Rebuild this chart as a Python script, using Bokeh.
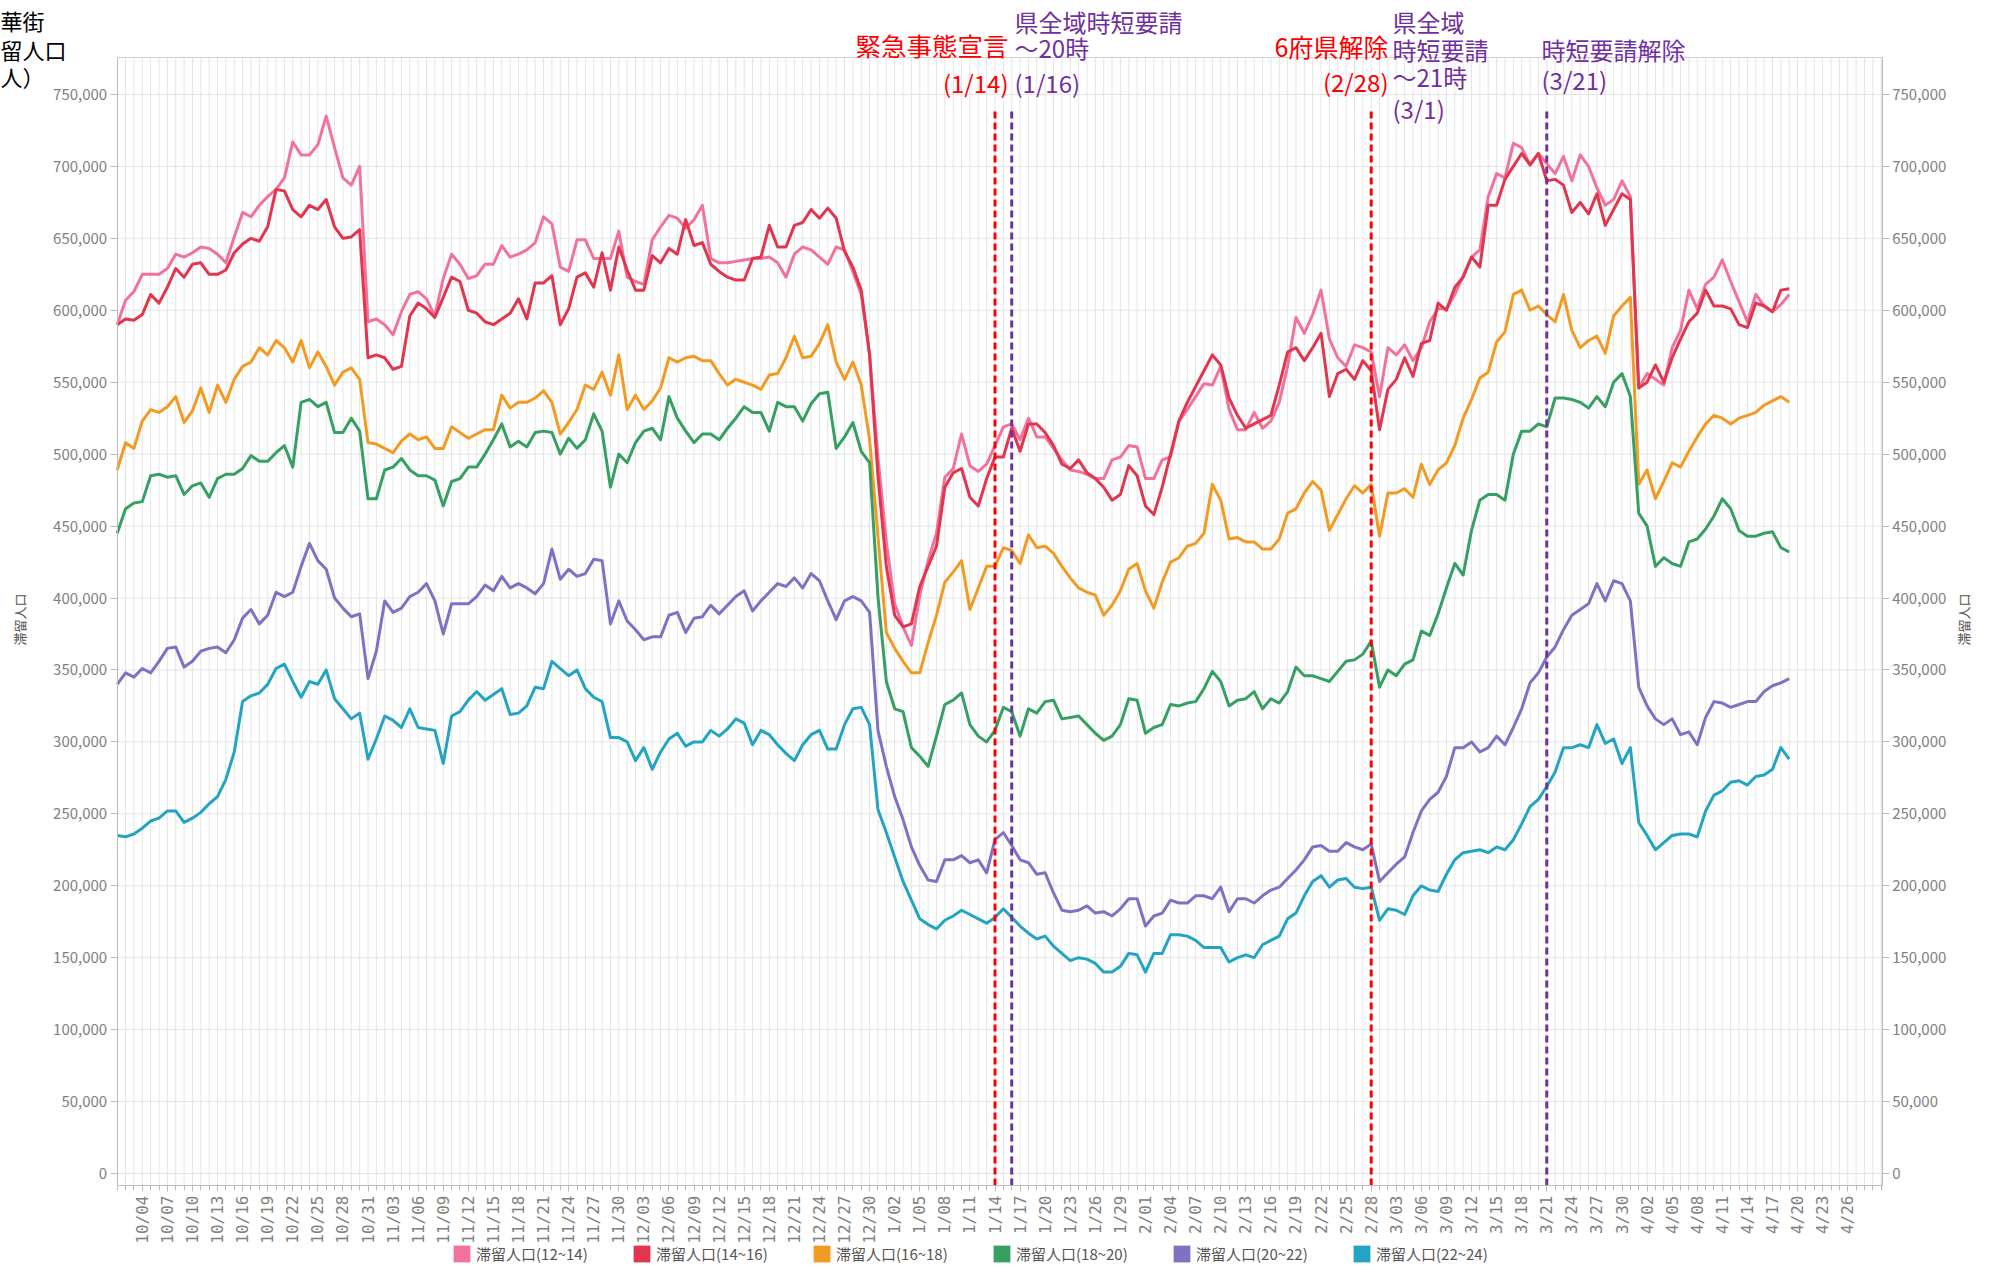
from datetime import date, timedelta
from bokeh.plotting import figure
from bokeh.models import (Range1d, LinearAxis, FixedTicker, NumeralTickFormatter,
                          Label, Legend, LegendItem, ColumnDataSource)
from bokeh.embed import file_html
from bokeh.resources import INLINE

FONT = "Noto Sans CJK JP"

# ---- data (values in thousands of people), day 0 = 10/01 ----
START = date(2020, 10, 1)
N_DAYS_AXIS = 212  # 10/01 .. 4/30

TICK_LABELS = ["10/04", "10/07", "10/10", "10/13", "10/16", "10/19", "10/22", "10/25", "10/28",
               "10/31", "11/03", "11/06", "11/09", "11/12", "11/15", "11/18", "11/21", "11/24",
               "11/27", "11/30", "12/03", "12/06", "12/09", "12/12", "12/15", "12/18", "12/21",
               "12/24", "12/27", "12/30", "1/02", "1/05", "1/08", "1/11", "1/14", "1/17", "1/20",
               "1/23", "1/26", "1/29", "2/01", "2/04", "2/07", "2/10", "2/13", "2/16", "2/19",
               "2/22", "2/25", "2/28", "3/03", "3/06", "3/09", "3/12", "3/15", "3/18", "3/21",
               "3/24", "3/27", "3/30", "4/02", "4/05", "4/08", "4/11", "4/14", "4/17", "4/20",
               "4/23", "4/26"]

SERIES_NAMES = ["滞留人口(12~14)", "滞留人口(14~16)", "滞留人口(16~18)",
                "滞留人口(18~20)", "滞留人口(20~22)", "滞留人口(22~24)"]
SERIES_COLORS = ["#F2729E", "#E2354E", "#F39A22", "#35A062", "#7E72C2", "#23A4C2"]

pop_12_14 = [590, 607, 613, 625, 625, 625, 629, 639, 637, 640, 644, 643, 639, 633, 651, 668, 665, 673, 679, 684,
             692, 717, 708, 708, 715, 735, 713, 692, 687, 700, 592, 594, 590, 583, 599, 611, 613, 608, 596, 622,
             639, 632, 622, 624, 632, 632, 645, 637, 639, 642, 647, 665,
             660, 630, 627, 649, 649, 636, 636, 636, 655, 623, 620, 618, 649, 658, 666, 664, 657, 663, 673, 636,
             633, 633, 634, 635, 636, 636, 637, 633, 623, 639, 644, 642, 637, 632, 644, 642, 627, 611, 569, 498,
             439, 396, 380, 367, 402, 426, 445, 484, 490, 514, 492, 488, 493,
             506, 519, 521, 510, 525, 512, 512, 504, 496, 489, 488, 486, 483, 483, 496, 498, 506, 505, 483, 483,
             496, 498, 523, 531, 540, 549, 548, 561, 531, 517, 517, 529, 518, 523, 536, 561, 595, 584, 597, 614,
             580, 567, 561, 576, 574, 571, 540, 574, 569, 576, 565, 574, 592,
             601, 601, 611, 624, 637, 642, 679, 695, 692, 716, 713, 701, 709, 702, 695, 707, 690, 708, 700, 685,
             673, 677, 690, 679, 546, 556, 552, 548, 574, 586, 614, 601, 618, 623, 635, 620, 606, 592, 611, 603,
             599, 604, 611]

pop_14_16 = [590, 594, 593, 597, 611, 605, 616, 629, 623, 632, 633, 625, 625, 628, 640, 646, 650, 648, 658, 684,
             683, 670, 665, 673, 670, 677, 658, 650, 651, 656, 567, 569, 567, 559, 561, 596, 605, 601, 595, 609,
             623, 620, 600, 598, 592, 590, 594, 598, 608, 594, 619, 619,
             624, 590, 601, 623, 626, 616, 640, 614, 644, 628, 614, 614, 638, 633, 643, 639, 663, 645, 647, 632,
             627, 623, 621, 621, 636, 637, 659, 644, 644, 659, 661, 670, 664, 671, 664, 641, 630, 614, 569, 485,
             422, 388, 380, 382, 408, 422, 436, 477, 487, 490, 470, 464, 483,
             498, 498, 518, 502, 521, 521, 515, 506, 493, 490, 496, 487, 483, 477, 468, 472, 492, 485, 464, 458,
             477, 500, 523, 536, 547, 558, 569, 562, 539, 527, 518, 521, 524, 527, 548, 571, 574, 565, 574, 584,
             540, 556, 559, 552, 565, 558, 517, 545, 552, 567, 554, 577, 579,
             605, 600, 616, 623, 637, 630, 673, 673, 691, 700, 709, 701, 709, 690, 691, 687, 668, 675, 667, 681,
             659, 670, 681, 677, 546, 550, 562, 550, 567, 580, 592, 598, 614, 603, 603, 601, 590, 588, 605, 603,
             599, 614, 615]

pop_16_18 = [489, 508, 504, 523, 531, 529, 533, 540, 522, 530, 546, 529, 548, 536, 552, 561, 564, 574, 569, 579,
             574, 564, 579, 560, 571, 561, 548, 557, 560, 552, 508, 507, 504, 501, 509, 514, 510, 512, 504, 504,
             519, 515, 511, 514, 517, 517, 541, 532, 536, 536, 539, 544,
             536, 514, 522, 531, 548, 545, 557, 541, 569, 531, 541, 531, 537, 546, 567, 564, 567, 568, 565, 565,
             556, 548, 552, 550, 548, 545, 555, 556, 567, 582, 567, 568, 577, 590, 564, 552, 564, 548, 510, 443,
             376, 365, 356, 348, 348, 369, 388, 411, 418, 426, 392, 407, 422,
             422, 435, 433, 424, 444, 435, 436, 431, 422, 414, 407, 404, 402, 388, 395, 405, 420, 424, 405, 393,
             411, 425, 428, 436, 438, 445, 479, 468, 441, 442, 439, 439, 434, 434, 441, 459, 462, 473, 481, 475,
             447, 458, 469, 478, 473, 479, 443, 473, 473, 476, 470, 493, 479,
             489, 494, 506, 525, 538, 553, 557, 578, 585, 611, 614, 600, 603, 597, 592, 611, 586, 574, 579, 582,
             570, 596, 603, 609, 479, 489, 469, 481, 494, 491, 502, 512, 521, 527, 525, 521, 525, 527, 529, 534,
             537, 540, 536]

pop_18_20 = [445, 462, 466, 467, 485, 486, 484, 485, 472, 478, 480, 470, 483, 486, 486, 490, 499, 495, 495, 501,
             506, 491, 536, 538, 533, 536, 515, 515, 525, 516, 469, 469, 489, 491, 497, 489, 485, 485, 482, 464,
             481, 483, 491, 491, 500, 510, 521, 505, 509, 505, 515, 516,
             515, 500, 511, 504, 510, 528, 516, 477, 500, 494, 508, 516, 518, 510, 540, 525, 516, 508, 514, 514,
             510, 518, 525, 533, 529, 529, 516, 536, 533, 533, 523, 535, 542, 543, 504, 512, 522, 502, 494, 401,
             342, 323, 321, 296, 290, 283, 304, 326, 329, 334, 312, 304, 300,
             308, 324, 321, 304, 323, 320, 328, 329, 316, 317, 318, 312, 306, 301, 304, 312, 330, 329, 306, 310,
             312, 326, 325, 327, 328, 337, 349, 342, 325, 329, 330, 335, 323, 330, 327, 335, 352, 346, 346, 344,
             342, 349, 356, 357, 361, 370, 338, 350, 346, 354, 357, 377, 374,
             389, 407, 424, 416, 447, 468, 472, 472, 468, 500, 516, 516, 521, 519, 539, 539, 538, 536, 532, 540,
             533, 550, 556, 540, 459, 450, 422, 428, 424, 422, 439, 441, 448, 457, 469, 462, 447, 443, 443, 445,
             446, 435, 432]

pop_20_22 = [340, 348, 345, 351, 348, 356, 365, 366, 352, 356, 363, 365, 366, 362, 371, 386, 392, 382, 388, 404,
             401, 404, 422, 438, 426, 420, 400, 393, 387, 389, 344, 363, 398, 390, 393, 401, 404, 410, 398, 375,
             396, 396, 396, 401, 409, 405, 415, 407, 410, 407, 403, 410,
             434, 413, 420, 415, 417, 427, 426, 382, 398, 384, 378, 371, 373, 373, 388, 390, 376, 386, 387, 395,
             389, 395, 401, 405, 391, 398, 404, 410, 408, 414, 407, 417, 412, 398, 385, 398, 401, 398, 390, 308,
             283, 262, 246, 227, 214, 204, 203, 218, 218, 221, 216, 218, 209,
             232, 237, 228, 218, 216, 208, 209, 195, 183, 182, 183, 186, 181, 182, 179, 184, 191, 191, 172, 179,
             181, 190, 188, 188, 193, 193, 191, 199, 182, 191, 191, 188, 193, 197, 199, 205, 211, 218, 227, 228,
             224, 224, 230, 227, 225, 229, 203, 209, 215, 220, 237, 252, 260,
             265, 276, 296, 296, 300, 293, 296, 304, 298, 310, 323, 341, 348, 359, 366, 378, 388, 392, 396, 410,
             398, 412, 410, 398, 338, 325, 316, 312, 316, 305, 307, 298, 317, 328, 327, 324, 326, 328, 328, 335,
             339, 341, 344]

pop_22_24 = [235, 234, 236, 240, 245, 247, 252, 252, 244, 247, 251, 257, 262, 274, 293, 328, 332, 334, 340, 351,
             354, 342, 331, 342, 340, 350, 330, 323, 316, 320, 288, 302, 318, 315, 310, 323, 310, 309, 308, 285,
             318, 321, 329, 335, 329, 333, 337, 319, 320, 325, 338, 337,
             356, 351, 346, 350, 337, 331, 328, 303, 303, 300, 287, 296, 281, 293, 302, 306, 297, 300, 300, 308,
             304, 309, 316, 313, 298, 308, 305, 298, 292, 287, 298, 305, 308, 295, 295, 312, 323, 324, 312, 253,
             237, 220, 203, 190, 177, 173, 170, 176, 179, 183, 180, 177, 174,
             178, 184, 178, 172, 167, 163, 165, 158, 153, 148, 150, 149, 146, 140, 140, 144, 153, 152, 140, 153,
             153, 166, 166, 165, 162, 157, 157, 157, 147, 150, 152, 150, 159, 162, 165, 177, 181, 193, 203, 207,
             199, 204, 205, 199, 198, 199, 176, 184, 183, 180, 193, 200, 197,
             196, 208, 218, 223, 224, 225, 223, 227, 225, 232, 243, 255, 260, 269, 279, 296, 296, 298, 296, 312,
             299, 302, 285, 296, 244, 235, 225, 230, 235, 236, 236, 234, 252, 263, 266, 272, 273, 270, 276, 277,
             281, 296, 288]

SERIES = [pop_12_14, pop_14_16, pop_16_18, pop_18_20, pop_20_22, pop_22_24]

EVENT_DATES = ["1/14", "1/16", "2/28", "3/21"]
EVENT_COLORS = ["#FF0000", "#7030A0", "#FF0000", "#7030A0"]

# ---- helpers ----
def day_label(i):
    d = START + timedelta(days=i)
    return f"{d.month}/{d.day:02d}"

ALL_LABELS = [day_label(i) for i in range(N_DAYS_AXIS)]

def day_index(lbl):
    m, d = lbl.split("/")
    return ALL_LABELS.index(f"{int(m)}/{int(d):02d}")

# ---- canvas geometry (pixels) ----
W, H = 1975, 1264
PX0, PX_PER_DAY = 116.7, 8.36        # x pixel of day 0, pixels per day
PY0, PX_PER_K = 1173.0, 1.4387        # y pixel of value 0, pixels per 1000 people
XR = (-PX0 / PX_PER_DAY, (W - PX0) / PX_PER_DAY)
YR = ((PY0 - H) / PX_PER_K * 1000, PY0 / PX_PER_K * 1000)

def X(px):
    return (px - PX0) / PX_PER_DAY

def Y(py):
    return (PY0 - py) / PX_PER_K * 1000

XMIN, XMAX = 0, X(1881.7)
YMIN, YMAX = Y(1185), Y(57)

p = figure(width=W, height=H, output_backend="svg", toolbar_location=None,
           x_range=Range1d(*XR), y_range=Range1d(*YR),
           min_border=0, min_border_left=0, min_border_right=0,
           min_border_top=0, min_border_bottom=0)
p.title.visible = False
p.background_fill_color = "white"
p.border_fill_color = "white"
p.outline_line_color = None
p.xgrid.visible = False
p.ygrid.visible = False

# grid lines and frame border
days = list(range(1, N_DAYS_AXIS))
p.segment(x0=days, y0=[YMIN] * len(days), x1=days, y1=[YMAX] * len(days),
          line_color="#E4E4E4", line_width=1)
yticks = list(range(0, 750001, 50000))
p.segment(x0=[XMIN] * len(yticks), y0=yticks, x1=[XMAX] * len(yticks), y1=yticks,
          line_color="#E4E4E4", line_width=1)
p.segment(x0=[XMIN, XMAX], y0=[YMAX, YMIN], x1=[XMAX, XMAX], y1=[YMAX, YMAX],
          line_color="#D0D0D0", line_width=1)

# axes (fixed at the plot-box edges)
tick_pos = [day_index(t) for t in TICK_LABELS]
xa = p.xaxis[0]
xa.fixed_location = YMIN
xa.bounds = (XMIN, XMAX)
xa.ticker = FixedTicker(ticks=tick_pos, minor_ticks=list(range(N_DAYS_AXIS)))
xa.major_label_overrides = {t: lbl for t, lbl in zip(tick_pos, TICK_LABELS)}
xa.major_label_orientation = 3.14159265 / 2
xa.major_label_text_font = "DejaVu Sans Mono"
xa.major_label_text_font_size = "16px"
xa.major_label_text_color = "#808080"
xa.axis_line_color = "#BBBBBB"
xa.major_tick_line_color = "#BBBBBB"
xa.minor_tick_line_color = "#BBBBBB"
xa.major_tick_out = 6
xa.minor_tick_out = 5
xa.major_tick_in = 0
xa.minor_tick_in = 0
xa.major_label_standoff = 4

ya = p.yaxis[0]
ya.fixed_location = XMIN
right = LinearAxis(fixed_location=XMAX)
p.add_layout(right, "right")
for ax in (ya, right):
    ax.bounds = (YMIN, YMAX)
    ax.ticker = FixedTicker(ticks=yticks)
    ax.formatter = NumeralTickFormatter(format="0,0")
    ax.major_label_text_font = FONT
    ax.major_label_text_font_size = "15px"
    ax.major_label_text_color = "#808080"
    ax.axis_line_color = "#BBBBBB"
    ax.major_tick_line_color = "#BBBBBB"
    ax.major_tick_out = 7
    ax.major_tick_in = 0
    ax.minor_tick_line_color = None
    ax.major_label_standoff = 3

# series
for vals, name, col in zip(SERIES, SERIES_NAMES, SERIES_COLORS):
    src = ColumnDataSource(dict(x=list(range(len(vals))), y=[v * 1000 for v in vals]))
    p.line("x", "y", source=src, line_color=col, line_width=3, line_join="round")

# event lines
for lbl, col in zip(EVENT_DATES, EVENT_COLORS):
    xi = day_index(lbl)
    p.segment(x0=[xi], y0=[YMIN], x1=[xi], y1=[Y(107)], line_color=col,
              line_width=3, line_dash="7 4")

# annotations (positions given in pixels)
def add_text(txt, px, py, col, size="24px", align="left", angle=0.0):
    p.add_layout(Label(x=X(px), y=Y(py), text=txt, text_color=col, text_font=FONT,
                       text_font_size=size, text_align=align, text_baseline="middle",
                       angle=angle))

RED, PUR = "#FF0000", "#7030A0"
add_text("緊急事態宣言", 1008, 44, RED, size="25.5px", align="right")
add_text("(1/14)", 1008, 82, RED, align="right")
add_text("県全域時短要請", 1014, 21, PUR)
add_text("～20時", 1014, 47, PUR)
add_text("(1/16)", 1014, 82, PUR)
add_text("6府県解除", 1388, 45, RED, size="25px", align="right")
add_text("(2/28)", 1388, 81, RED, align="right")
add_text("県全域", 1392, 21, PUR)
add_text("時短要請", 1392, 49, PUR)
add_text("～21時", 1392, 76, PUR)
add_text("(3/1)", 1392, 108, PUR)
add_text("時短要請解除", 1541, 49, PUR)
add_text("(3/21)", 1541, 79, PUR)

# top-left y title (cut at the page edge in the original)
add_text("華街", 0, 19, "#000000", size="22px")
add_text("留人口", 0, 48, "#000000", size="22px")
add_text("人）", 0, 75, "#000000", size="22px")

# rotated axis titles
add_text("滞留人口", 19, 619, "#555555", size="13px", align="center", angle=3.14159265 / 2)
add_text("滞留人口", 1963, 619, "#555555", size="13px", align="center", angle=3.14159265 / 2)

# legend with square swatches (zero-size proxy bars so the legend can draw them)
items = []
for vals, name, col in zip(SERIES, SERIES_NAMES, SERIES_COLORS):
    r = p.vbar(x=[0], top=[0], bottom=[0], width=0, fill_color=col, line_color=None)
    items.append(LegendItem(label=name, renderers=[r]))
legend = Legend(items=items, orientation="horizontal", location=(451, 0),
                glyph_width=21, glyph_height=21, label_standoff=4, label_width=155,
                spacing=0, padding=0, margin=0, border_line_color=None,
                background_fill_alpha=0, label_text_font=FONT,
                label_text_font_size="15px", label_text_color="#555555")
p.add_layout(legend, "center")

open("out.html", "w").write(file_html(p, INLINE))
